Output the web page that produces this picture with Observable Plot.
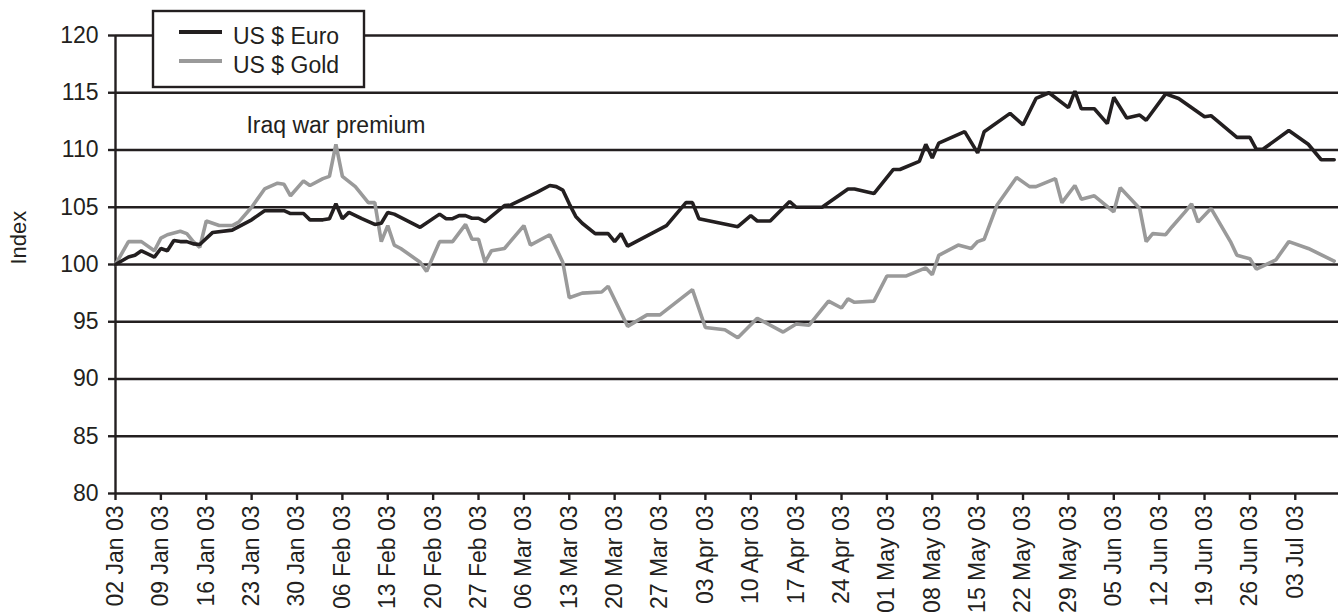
<!DOCTYPE html>
<html>
<head>
<meta charset="utf-8">
<script src="https://cdn.jsdelivr.net/npm/d3@7"></script>
<script src="https://cdn.jsdelivr.net/npm/@observablehq/plot@0.6"></script>
<style>
  html, body { margin: 0; padding: 0; background: #fff; }
  #chart { width: 1338px; height: 612px; }
</style>
</head>
<body>
<div id="chart"></div>
<script>
// ---- Data ----
const seriesNames = ["US $ Euro", "US $ Gold"];
const seriesColors = ["#231f20", "#9a9a9a"];

const euroDates = [
  "2003-01-02","2003-01-04","2003-01-05","2003-01-06","2003-01-08","2003-01-09","2003-01-10","2003-01-11",
  "2003-01-12","2003-01-13","2003-01-14","2003-01-15","2003-01-17","2003-01-20","2003-01-23","2003-01-25",
  "2003-01-28","2003-01-29","2003-01-31","2003-02-01","2003-02-03","2003-02-04","2003-02-05","2003-02-06",
  "2003-02-07","2003-02-09","2003-02-11","2003-02-12","2003-02-13","2003-02-14","2003-02-18","2003-02-21",
  "2003-02-22","2003-02-23","2003-02-24","2003-02-25","2003-02-26","2003-02-27","2003-02-28","2003-03-03",
  "2003-03-04","2003-03-08","2003-03-10","2003-03-11","2003-03-12","2003-03-13","2003-03-14","2003-03-15",
  "2003-03-17","2003-03-19","2003-03-20","2003-03-21","2003-03-22","2003-03-28","2003-03-31","2003-04-01",
  "2003-04-02","2003-04-08","2003-04-10","2003-04-11","2003-04-13","2003-04-16","2003-04-17","2003-04-21",
  "2003-04-25","2003-04-26","2003-04-29","2003-05-02","2003-05-03","2003-05-06","2003-05-07","2003-05-08",
  "2003-05-09","2003-05-13","2003-05-15","2003-05-16","2003-05-20","2003-05-22","2003-05-24","2003-05-26",
  "2003-05-29","2003-05-30","2003-05-31","2003-06-02","2003-06-04","2003-06-05","2003-06-07","2003-06-09",
  "2003-06-10","2003-06-13","2003-06-15","2003-06-19","2003-06-20","2003-06-24","2003-06-26","2003-06-27",
  "2003-06-28","2003-07-02","2003-07-05","2003-07-07","2003-07-09"
];
const euroValues = [
  100.0,100.65,100.8,101.2,100.65,101.4,101.2,102.1,
  102.0,102.0,101.8,101.75,102.8,103.0,103.9,104.7,
  104.7,104.45,104.45,103.9,103.9,104.0,105.3,104.0,
  104.55,104.0,103.5,103.6,104.55,104.4,103.25,104.4,
  104.0,104.0,104.27,104.27,104.04,104.04,103.75,105.14,
  105.2,106.3,106.9,106.8,106.5,105.3,104.2,103.6,
  102.7,102.7,102.0,102.7,101.6,103.4,105.4,105.4,
  104.0,103.3,104.26,103.8,103.8,105.5,105.0,105.0,
  106.6,106.6,106.2,108.3,108.3,109.0,110.5,109.3,
  110.6,111.6,109.75,111.6,113.2,112.2,114.5,115.0,
  113.7,115.15,113.6,113.6,112.3,114.6,112.8,113.05,
  112.6,114.9,114.5,112.9,113.0,111.1,111.1,110.06,
  110.06,111.7,110.5,109.15,109.15
];

const goldDates = [
  "2003-01-02","2003-01-04","2003-01-06","2003-01-08","2003-01-09","2003-01-10","2003-01-12","2003-01-13",
  "2003-01-14","2003-01-15","2003-01-16","2003-01-18","2003-01-20","2003-01-21","2003-01-23","2003-01-25",
  "2003-01-27","2003-01-28","2003-01-29","2003-01-31","2003-02-01","2003-02-03","2003-02-04","2003-02-05",
  "2003-02-06","2003-02-08","2003-02-10","2003-02-11","2003-02-12","2003-02-13","2003-02-14","2003-02-15",
  "2003-02-18","2003-02-19","2003-02-21","2003-02-23","2003-02-25","2003-02-26","2003-02-27","2003-02-28",
  "2003-03-01","2003-03-03","2003-03-06","2003-03-07","2003-03-10","2003-03-12","2003-03-13","2003-03-15",
  "2003-03-18","2003-03-19","2003-03-22","2003-03-25","2003-03-27","2003-04-01","2003-04-03","2003-04-06",
  "2003-04-08","2003-04-11","2003-04-15","2003-04-17","2003-04-19","2003-04-22","2003-04-24","2003-04-25",
  "2003-04-26","2003-04-29","2003-05-01","2003-05-04","2003-05-07","2003-05-08","2003-05-09","2003-05-12",
  "2003-05-14","2003-05-15","2003-05-16","2003-05-18","2003-05-21","2003-05-23","2003-05-24","2003-05-27",
  "2003-05-28","2003-05-30","2003-05-31","2003-06-02","2003-06-05","2003-06-06","2003-06-09","2003-06-10",
  "2003-06-11","2003-06-13","2003-06-14","2003-06-16","2003-06-17","2003-06-18","2003-06-20","2003-06-23",
  "2003-06-24","2003-06-26","2003-06-27","2003-06-30","2003-07-02","2003-07-05","2003-07-09"
];
const goldValues = [
  100.0,102.0,102.0,101.2,102.3,102.6,102.9,102.7,
  102.0,101.5,103.8,103.4,103.4,103.7,105.0,106.6,
  107.1,107.0,106.0,107.3,106.9,107.5,107.7,110.5,
  107.7,106.8,105.4,105.4,102.0,103.4,101.7,101.4,
  100.2,99.4,102.0,102.0,103.5,102.2,102.2,100.2,
  101.2,101.4,103.4,101.7,102.6,100.2,97.1,97.5,
  97.6,98.1,94.6,95.6,95.6,97.8,94.5,94.3,
  93.6,95.3,94.1,94.8,94.7,96.8,96.2,97.0,
  96.7,96.8,99.0,99.0,99.7,99.1,100.8,101.7,
  101.4,102.0,102.2,105.2,107.6,106.8,106.8,107.5,
  105.4,106.9,105.7,106.0,104.6,106.7,104.9,102.0,
  102.7,102.6,103.3,104.6,105.3,103.7,104.9,102.0,
  100.8,100.5,99.6,100.4,102.0,101.4,100.3
];

const xTickDates = [
  "2003-01-02","2003-01-09","2003-01-16","2003-01-23","2003-01-30","2003-02-06","2003-02-13",
  "2003-02-20","2003-02-27","2003-03-06","2003-03-13","2003-03-20","2003-03-27","2003-04-03",
  "2003-04-10","2003-04-17","2003-04-24","2003-05-01","2003-05-08","2003-05-15","2003-05-22",
  "2003-05-29","2003-06-05","2003-06-12","2003-06-19","2003-06-26","2003-07-03"
];
const yTicks = [80, 85, 90, 95, 100, 105, 110, 115, 120];
const xDomain = ["2003-01-02T00:00Z", "2003-07-09T16:00Z"];
const yLabel = "Index";
const annotations = [{date: "2003-02-05", value: 112.1, text: "Iraq war premium"}];

// ---- Build tables ----
const euro = euroDates.map((d, i) => ({date: new Date(d), value: euroValues[i]}));
const gold = goldDates.map((d, i) => ({date: new Date(d), value: goldValues[i]}));
const notes = annotations.map(a => ({...a, date: new Date(a.date)}));
const ink = "#231f20";
const font = "'Liberation Sans', Arial, Helvetica, sans-serif";

const plot = Plot.plot({
  width: 1338,
  height: 612,
  marginLeft: 115,
  marginRight: 0,
  marginTop: 35,
  marginBottom: 119,
  style: {fontFamily: font, fontSize: "23px", color: ink, background: "#fff", overflow: "visible"},
  x: {type: "utc", domain: xDomain.map(d => new Date(d))},
  y: {domain: [80, 120]},
  marks: [
    Plot.ruleY(yTicks, {stroke: ink, strokeWidth: 2.4}),
    Plot.ruleX([new Date(xDomain[0])], {stroke: ink, strokeWidth: 2.4}),
    Plot.axisY({ticks: yTicks, tickSize: 7, tickPadding: 10, strokeWidth: 2.4, stroke: ink, fill: ink, label: null}),
    Plot.axisX({
      ticks: xTickDates.map(d => new Date(d)),
      tickFormat: d3.utcFormat("%d %b %y"),
      tickRotate: -90,
      tickSize: 7,
      tickPadding: 5,
      strokeWidth: 2.4,
      stroke: ink,
      fill: ink,
      label: null
    }),
    Plot.text([yLabel], {frameAnchor: "left", rotate: -90, dx: -97, fill: ink, fontSize: 22}),
    Plot.line(gold, {x: "date", y: "value", stroke: seriesColors[1], strokeWidth: 3.6, strokeLinejoin: "miter"}),
    Plot.line(euro, {x: "date", y: "value", stroke: seriesColors[0], strokeWidth: 3.6, strokeLinejoin: "miter"}),
    Plot.text(notes, {x: "date", y: "value", text: "text", fill: ink, fontSize: 23, textAnchor: "middle"})
  ]
});

document.getElementById("chart").appendChild(plot);

// ---- Legend box (overlaid top-left, as in the original) ----
const svg = d3.select(plot);
const lg = svg.append("g")
  .attr("font-family", font)
  .attr("font-size", 23)
  .attr("text-anchor", "start");
lg.append("rect").attr("x", 153).attr("y", 11).attr("width", 211).attr("height", 76)
  .attr("fill", "#fff").attr("stroke", ink).attr("stroke-width", 2.4);
seriesNames.forEach((name, i) => {
  const cy = 32 + i * 29;
  lg.append("line").attr("x1", 179).attr("x2", 222).attr("y1", cy).attr("y2", cy)
    .attr("stroke", seriesColors[i]).attr("stroke-width", 4);
  lg.append("text").attr("x", 233).attr("y", cy + 12)
    .attr("text-anchor", "start").attr("fill", ink).text(name);
});
</script>
</body>
</html>
